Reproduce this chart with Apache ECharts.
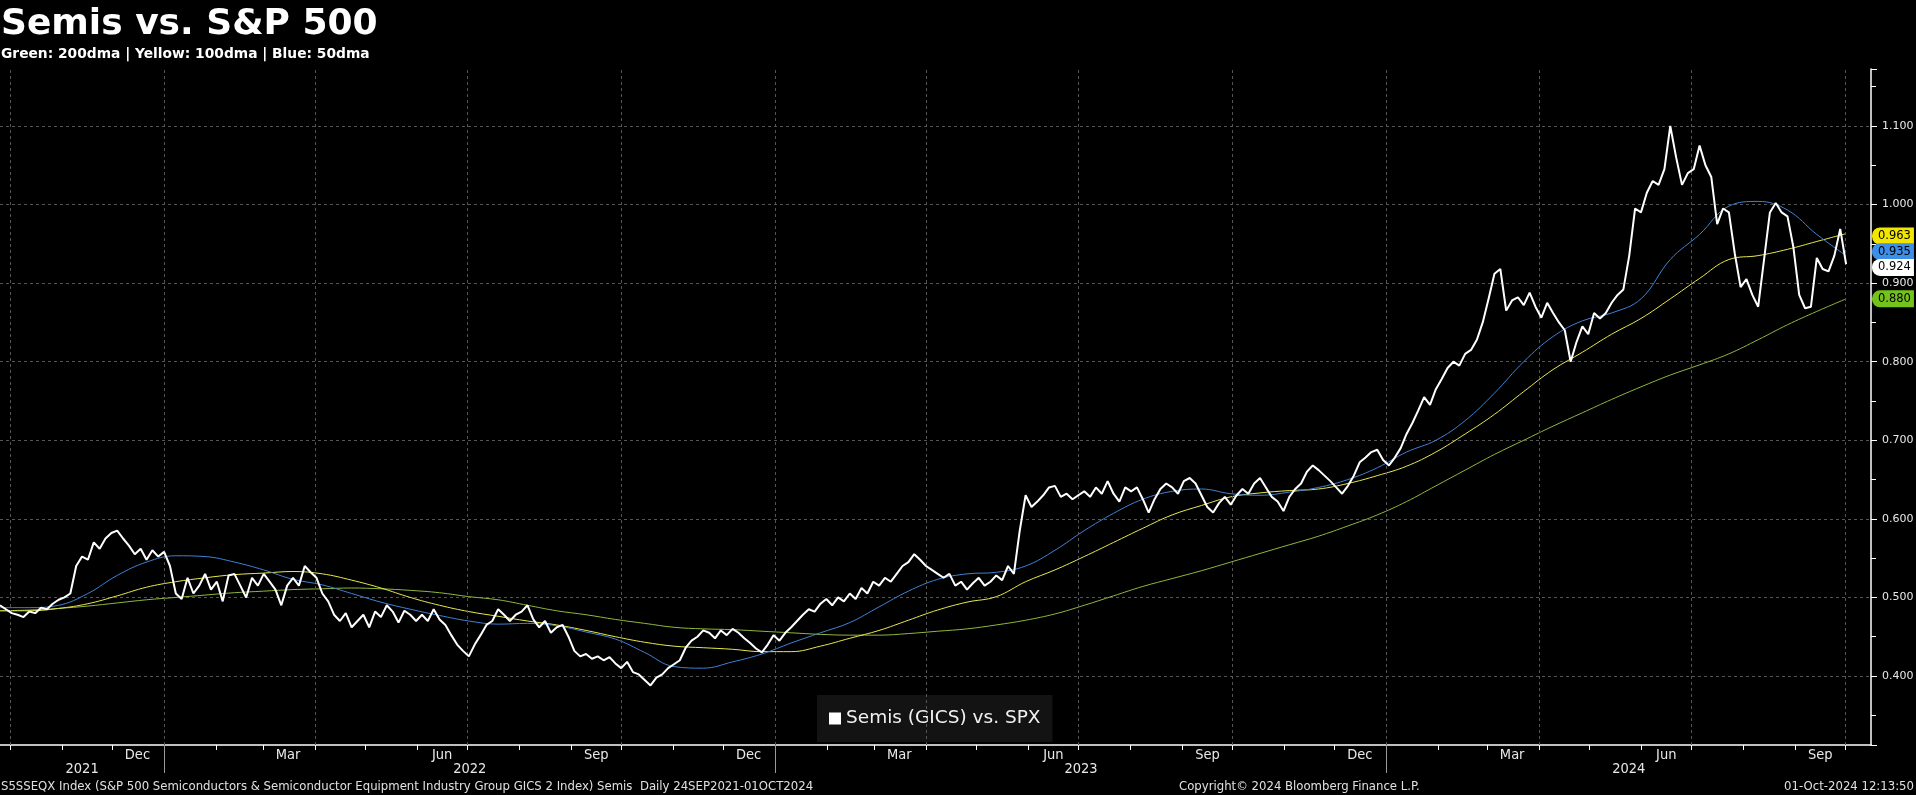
<!DOCTYPE html>
<html>
<head>
<meta charset="utf-8">
<script src="https://cdn.jsdelivr.net/npm/echarts@6/dist/echarts.min.js"></script>
<style>
html,body{margin:0;padding:0;background:#000;}
#c{width:1916px;height:795px;}
</style>
</head>
<body>
<div id="c"></div>
<script>
// ---------- data ----------
const seriesStart = [2021, 8, 24, 22];   // local date parts of first sample
const stepDays = 3.5;                      // spacing of the semis samples
const maStepDays = 17.5;                   // spacing of the moving-average samples

const semisName = 'Semis (GICS) vs. SPX';
const semis = [
0.490,0.485,0.480,0.478,0.475,0.482,0.480,0.487,0.485,0.492,
0.497,0.500,0.505,0.540,0.552,0.548,0.570,0.562,0.575,0.582,
0.585,0.575,0.566,0.555,0.562,0.548,0.560,0.552,0.558,0.540,
0.505,0.498,0.525,0.505,0.515,0.530,0.510,0.520,0.495,0.528,
0.530,0.515,0.500,0.525,0.515,0.530,0.520,0.510,0.490,0.515,
0.525,0.515,0.540,0.532,0.525,0.505,0.495,0.478,0.470,0.480,
0.462,0.470,0.478,0.462,0.482,0.475,0.490,0.482,0.468,0.483,
0.478,0.470,0.478,0.470,0.485,0.472,0.465,0.452,0.440,0.432,
0.425,0.440,0.452,0.465,0.470,0.485,0.478,0.470,0.478,0.482,
0.490,0.472,0.462,0.470,0.455,0.462,0.465,0.450,0.432,0.425,
0.428,0.422,0.425,0.420,0.424,0.416,0.410,0.418,0.405,0.402,
0.395,0.388,0.398,0.402,0.410,0.415,0.420,0.436,0.445,0.450,
0.458,0.455,0.448,0.458,0.452,0.460,0.455,0.448,0.442,0.435,
0.430,0.440,0.452,0.445,0.455,0.462,0.470,0.478,0.485,0.482,
0.492,0.498,0.490,0.500,0.495,0.505,0.498,0.512,0.505,0.520,
0.515,0.525,0.520,0.530,0.540,0.545,0.555,0.548,0.540,0.535,
0.530,0.525,0.530,0.515,0.520,0.510,0.518,0.525,0.515,0.520,
0.528,0.522,0.540,0.530,0.585,0.630,0.615,0.622,0.630,0.640,
0.642,0.628,0.632,0.625,0.630,0.635,0.628,0.640,0.632,0.648,
0.632,0.622,0.640,0.635,0.640,0.625,0.608,0.625,0.638,0.645,
0.640,0.632,0.648,0.652,0.645,0.630,0.615,0.608,0.620,0.628,
0.618,0.630,0.638,0.632,0.645,0.652,0.640,0.628,0.622,0.610,
0.628,0.638,0.645,0.660,0.668,0.662,0.655,0.648,0.640,0.632,
0.642,0.655,0.672,0.678,0.685,0.688,0.675,0.668,0.678,0.690,
0.708,0.722,0.738,0.755,0.745,0.765,0.778,0.792,0.800,0.795,
0.810,0.815,0.828,0.850,0.880,0.912,0.918,0.865,0.878,0.882,
0.872,0.888,0.870,0.856,0.875,0.862,0.850,0.840,0.800,0.825,
0.845,0.835,0.862,0.855,0.862,0.875,0.885,0.892,0.935,0.995,
0.990,1.015,1.030,1.025,1.045,1.100,1.060,1.025,1.040,1.045,
1.075,1.050,1.035,0.975,0.995,0.990,0.938,0.895,0.905,0.885,
0.870,0.930,0.990,1.002,0.990,0.985,0.946,0.885,0.868,0.870,
0.932,0.918,0.915,0.935,0.969,0.924
];

const ma50 = [
0.487,0.487,0.490,0.505,0.528,0.545,0.553,0.552,0.545,0.535,
0.523,0.516,0.505,0.494,0.485,0.477,0.470,0.466,0.467,0.464,
0.456,0.447,0.430,0.412,0.410,0.418,0.428,0.442,0.455,0.468,
0.488,0.508,0.523,0.530,0.532,0.540,0.560,0.585,0.607,0.625,
0.635,0.638,0.632,0.630,0.634,0.640,0.650,0.665,0.685,0.700,
0.725,0.760,0.800,0.832,0.852,0.862,0.880,0.930,0.962,0.998,
1.004,0.993,0.962,0.935
];

const ma100 = [
0.483,0.483,0.486,0.492,0.502,0.513,0.520,0.525,0.529,0.531,
0.533,0.530,0.522,0.512,0.500,0.490,0.482,0.476,0.470,0.465,
0.458,0.450,0.443,0.438,0.436,0.434,0.431,0.431,0.438,0.448,
0.458,0.471,0.484,0.494,0.501,0.520,0.535,0.552,0.570,0.588,
0.605,0.617,0.628,0.633,0.636,0.638,0.645,0.655,0.667,0.685,
0.708,0.733,0.762,0.790,0.812,0.835,0.855,0.880,0.906,0.930,
0.935,0.943,0.953,0.963
];

const ma200 = [
0.483,0.484,0.486,0.489,0.493,0.497,0.500,0.503,0.506,0.508,
0.510,0.511,0.512,0.511,0.509,0.506,0.501,0.497,0.490,0.483,
0.478,0.472,0.467,0.462,0.460,0.459,0.457,0.455,0.453,0.452,
0.452,0.454,0.457,0.460,0.465,0.471,0.479,0.490,0.502,0.514,
0.524,0.534,0.545,0.556,0.567,0.578,0.591,0.605,0.622,0.642,
0.662,0.682,0.700,0.718,0.735,0.752,0.768,0.783,0.796,0.810,
0.828,0.847,0.864,0.880
];

// axis ranges and tick definitions
const xMinParts = [2021, 8, 24, 22];
const xMaxParts = [2024, 9, 16, 7];
const yMin = 0.3122, yMax = 1.1725;
const monthLabelDates = ['2021-12-16','2022-03-16','2022-06-16','2022-09-16','2022-12-16','2023-03-16',
                         '2023-06-16','2023-09-16','2023-12-16','2024-03-16','2024-06-16','2024-09-16'];
const monthNames = ['Jan','Feb','Mar','Apr','May','Jun','Jul','Aug','Sep','Oct','Nov','Dec'];
const quarterStarts = ['2021-10-01','2022-01-01','2022-04-01','2022-07-01','2022-10-01','2023-01-01',
                       '2023-04-01','2023-07-01','2023-10-01','2024-01-01','2024-04-01','2024-07-01','2024-10-01'];
const yearStarts = ['2022-01-01','2023-01-01','2024-01-01'];
const yearNames = ['2021','2022','2023','2024'];

// ---------- helpers ----------
const DAY = 86400000;
function d(s){ const p = s.split('-'); return new Date(+p[0], +p[1]-1, +p[2]).getTime(); }
const t0 = new Date(...seriesStart).getTime();
const xMin = new Date(...xMinParts).getTime();
const xMax = new Date(...xMaxParts).getTime();
const semisData = semis.map((v,i)=>[t0 + i*stepDays*DAY, v]);
const maData = arr => arr.map((v,i)=>[t0 + i*maStepDays*DAY, v]);

const monthTicks = [];
for (let y = 2021, m = 9; y < 2024 || (y === 2024 && m <= 9); ) {
  monthTicks.push(new Date(y, m, 1).getTime());
  m++; if (m > 11) { m = 0; y++; }
}
const yb = [xMin].concat(yearStarts.map(d), [xMax]);
const yearLabelPos = yearNames.map((n,i)=> Math.round((yb[i]+yb[i+1])/2));

const FONT_AX = "'DejaVu Sans Condensed','Liberation Sans Narrow','Liberation Sans',sans-serif";
const FONT_Y = "'DejaVu Sans',Verdana,sans-serif";
const GRID_COLOR = '#555555';

function tag(value, bg, fg){
  return {
    yAxis: value,
    lineStyle: {color: 'rgba(0,0,0,0)', width: 0, opacity: 1},
    label: {
      show: true, position: 'end', distance: 1, opacity: 1,
      formatter: () => value.toFixed(3),
      backgroundColor: bg, color: fg,
      fontFamily: FONT_Y, fontSize: 11.5,
      padding: [3, 3, 2, 6], borderRadius: [8, 0, 0, 8]
    }
  };
}

const chart = echarts.init(document.getElementById('c'), null, {renderer: 'canvas'});
chart.setOption({
  backgroundColor: '#000',
  animation: false,
  title: [
    {text: 'Semis vs. S&P 500', left: 1, top: 7, padding: 0,
     textStyle: {color: '#fff', fontSize: 36, fontWeight: 'bold', fontFamily: FONT_Y}},
    {text: 'Green: 200dma | Yellow: 100dma | Blue: 50dma', left: 1, top: 47, padding: 0,
     textStyle: {color: '#fff', fontSize: 13.8, fontWeight: 'bold', fontFamily: FONT_Y}},
    {text: 'S5SSEQX Index (S&P 500 Semiconductors & Semiconductor Equipment Industry Group GICS 2 Index) Semis  Daily 24SEP2021-01OCT2024',
     left: 1, top: 780, padding: 0,
     textStyle: {color: '#e0e0e0', fontSize: 13, fontWeight: 'normal', fontFamily: FONT_AX}},
    {text: 'Copyright\u00a9 2024 Bloomberg Finance L.P.', left: 1179, top: 780, padding: 0,
     textStyle: {color: '#e0e0e0', fontSize: 13, fontWeight: 'normal', fontFamily: FONT_AX}},
    {text: '01-Oct-2024 12:13:50', right: 2, top: 780, padding: 0,
     textStyle: {color: '#e0e0e0', fontSize: 13, fontWeight: 'normal', fontFamily: FONT_AX}}
  ],
  legend: {
    data: [semisName], left: 817, top: 695,
    padding: [14, 12, 14, 12], backgroundColor: 'rgba(255,255,255,0.075)',
    icon: 'rect', itemWidth: 12, itemHeight: 12,
    textStyle: {color: '#f2f2f2', fontSize: 18.5, fontFamily: FONT_Y},
    selectedMode: false
  },
  grid: {left: 0, right: 45, top: 69, bottom: 50, containLabel: false, outerBoundsMode: 'none'},
  xAxis: [
    {
      type: 'value', min: xMin, max: xMax, scale: true,
      axisLine: {show: true, onZero: false, lineStyle: {color: '#ffffff', width: 1.5}},
      axisTick: {show: true, customValues: monthTicks, length: 5, lineStyle: {color: '#ffffff'}},
      axisLabel: {
        show: true, customValues: monthLabelDates.map(d), margin: 3,
        formatter: v => monthNames[new Date(v).getMonth()],
        color: '#e8e8e8', fontSize: 14.5, fontFamily: FONT_AX
      },
      splitLine: {show: false}
    },
    {
      type: 'value', min: xMin, max: xMax, scale: true, position: 'bottom',
      axisLine: {show: false, onZero: false},
      axisTick: {show: true, customValues: yearStarts.map(d), length: 28, lineStyle: {color: '#9a9a9a'}},
      axisLabel: {
        show: true, customValues: yearLabelPos, margin: 17,
        formatter: v => { const k = yearLabelPos.findIndex(p => Math.abs(p - v) < DAY); return k >= 0 ? yearNames[k] : ''; },
        color: '#e8e8e8', fontSize: 14.5, fontFamily: FONT_AX
      },
      splitLine: {show: false}
    }
  ],
  yAxis: {
    type: 'value', position: 'right', min: yMin, max: yMax,
    minInterval: 0.1, maxInterval: 0.1,
    axisLine: {show: true, lineStyle: {color: '#ffffff', width: 1.5}},
    axisTick: {show: true, length: 6, lineStyle: {color: '#ffffff'}},
    minorTick: {show: true, splitNumber: 2, length: 5, lineStyle: {color: '#ffffff'}},
    axisLabel: {
      show: true, margin: 11, showMinLabel: false, showMaxLabel: false,
      formatter: v => v.toFixed(3), color: '#e8e8e8', fontSize: 11, fontFamily: FONT_Y
    },
    splitLine: {show: true, showMinLine: false, showMaxLine: false,
                lineStyle: {color: GRID_COLOR, type: [3, 3], width: 1}}
  },
  series: [
    {
      name: '200dma', type: 'line', data: maData(ma200), showSymbol: false, smooth: 0.4, clip: false,
      lineStyle: {color: '#8fb83a', width: 1}, itemStyle: {color: '#8fb83a'}, z: 2,
      markLine: {
        symbol: 'none', silent: true, animation: false,
        data: quarterStarts.map(s => ({xAxis: d(s), label: {show: false},
                 lineStyle: {color: GRID_COLOR, type: [3, 3], width: 1}}))
      }
    },
    {
      name: '200dma tag', type: 'line', data: [], clip: false, z: 6,
      markLine: {symbol: 'none', silent: true, animation: false,
                 data: [tag(ma200[ma200.length-1], '#74c21c', '#000')]}
    },
    {
      name: '100dma', type: 'line', data: maData(ma100), showSymbol: false, smooth: 0.4, clip: false,
      lineStyle: {color: '#e9e84e', width: 1}, itemStyle: {color: '#e9e84e'}, z: 3,
      markLine: {symbol: 'none', silent: true, animation: false,
                 data: [tag(ma100[ma100.length-1], '#f2e600', '#000')]}
    },
    {
      name: '50dma', type: 'line', data: maData(ma50), showSymbol: false, smooth: 0.4, clip: false,
      lineStyle: {color: '#3f82d6', width: 1}, itemStyle: {color: '#3f82d6'}, z: 4,
      markLine: {symbol: 'none', silent: true, animation: false,
                 data: [tag(ma50[ma50.length-1], '#3d8ee6', '#000')]}
    },
    {
      name: semisName, type: 'line', data: semisData, showSymbol: false, clip: false,
      lineStyle: {color: '#ffffff', width: 2}, itemStyle: {color: '#ffffff'}, z: 5,
      markLine: {symbol: 'none', silent: true, animation: false,
                 data: [tag(semis[semis.length-1], '#ffffff', '#000')]}
    }
  ]
});
</script>
</body>
</html>
